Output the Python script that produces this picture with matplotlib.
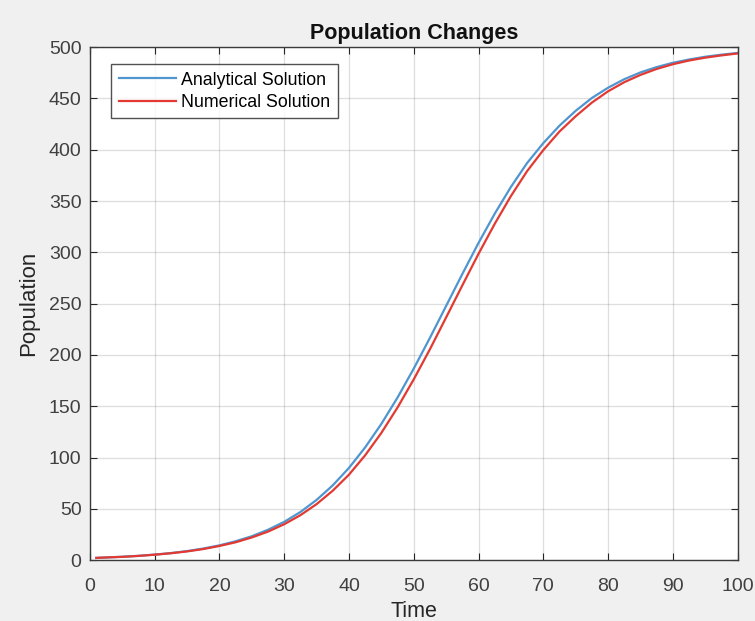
import matplotlib
matplotlib.use('Agg')
import matplotlib.pyplot as plt

# values (time step 2.5)
time = [1, 2.5, 5, 7.5, 10, 12.5, 15, 17.5, 20, 22.5, 25, 27.5, 30, 32.5,
        35, 37.5, 40, 42.5, 45, 47.5, 50, 52.5, 55, 57.5, 60, 62.5, 65,
        67.5, 70, 72.5, 75, 77.5, 80, 82.5, 85, 87.5, 90, 92.5, 95, 97.5, 100]

analytical = [2.2, 2.6, 3.3, 4.2, 5.4, 6.9, 8.8, 11.3, 14.4, 18.4, 23.3,
              29.6, 37.3, 46.9, 58.7, 72.9, 89.9, 109.9, 132.8, 158.5,
              186.7, 216.7, 247.8, 278.9, 309.2, 337.7, 363.8, 387.1, 406.5,
              423.5, 438.0, 450.5, 460.5, 468.8, 475.4, 480.6, 484.8, 488.0,
              490.7, 492.7, 494.4]

numerical = [2.2, 2.6, 3.2, 4.1, 5.3, 6.7, 8.5, 10.8, 13.8, 17.4, 22.1,
             27.8, 35.0, 43.8, 54.6, 67.7, 83.3, 102.2, 124.0, 148.8,
             176.2, 205.6, 236.6, 267.8, 298.6, 327.8, 354.9, 379.2, 399.7,
             417.8, 432.7, 446.0, 457.0, 465.9, 473.0, 478.8, 483.4, 487.0,
             489.8, 492.0, 493.9]

plt.rcParams['font.family'] = ['Liberation Sans', 'DejaVu Sans']

fig = plt.figure(figsize=(7.55, 6.21), dpi=100, facecolor='#f0f0f0')
ax = fig.add_axes([0.119, 0.098, 0.858, 0.826])

ax.plot(time, analytical, color='#4f95cf', lw=1.6, label='Analytical Solution')
ax.plot(time, numerical, color='#e23a32', lw=1.6, label='Numerical Solution')

ax.set_xlim(0, 100)
ax.set_ylim(0, 500)
ax.set_xticks(range(0, 101, 10))
ax.set_yticks(range(0, 501, 50))
ax.grid(True, color='#262626', alpha=0.15, lw=0.9)
ax.tick_params(direction='in', top=True, right=True, length=5,
               labelsize=14, colors='#262626', labelcolor='#404040')
ax.tick_params(axis='x', pad=13)
ax.tick_params(axis='y', pad=6)
for s in ax.spines.values():
    s.set_color('#3a3a3a')
    s.set_linewidth(1.0)

ax.set_title('Population Changes', fontsize=15.5, fontweight='bold',
             color='#111111', pad=6)
ax.set_xlabel('Time', fontsize=15.5, color='#262626', labelpad=4)
ax.set_ylabel('Population', fontsize=16, color='#262626', labelpad=7)

leg = ax.legend(loc='upper left', bbox_to_anchor=(0.033, 0.967), fontsize=12.8,
                frameon=True, fancybox=False, edgecolor='#262626',
                handlelength=3.2, handletextpad=0.3, borderpad=0.42,
                labelspacing=0.3, borderaxespad=0)
leg.get_frame().set_linewidth(1.0)

fig.savefig('out.png', dpi=100, facecolor=fig.get_facecolor())
